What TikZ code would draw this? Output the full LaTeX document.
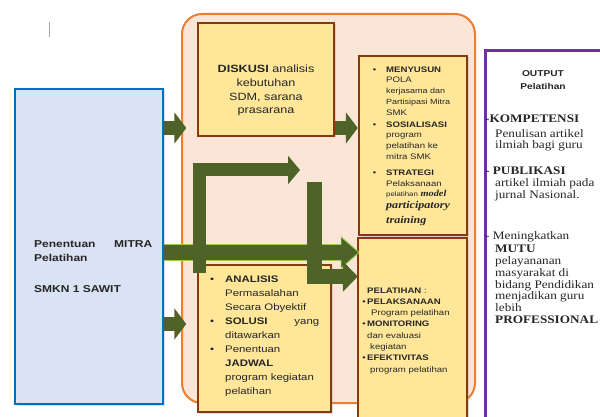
\documentclass[tikz,border=0pt]{standalone}
\usepackage{fontspec}
\setmainfont{Liberation Sans}[FakeStretch=1.2]
\newfontfamily\tnr{Liberation Serif}[FakeStretch=1.15]
\usetikzlibrary{arrows.meta,shadows}
\definecolor{srcfill}{HTML}{DAE3F3}
\definecolor{srcline}{HTML}{0070C0}
\definecolor{pnlfill}{HTML}{FBE5D6}
\definecolor{pnlline}{HTML}{ED7D31}
\definecolor{ylw}{HTML}{FFE699}
\definecolor{brn}{HTML}{843C0C}
\definecolor{olv}{HTML}{4F6228}
\definecolor{lime}{HTML}{92D050}
\definecolor{purp}{HTML}{7030A0}
\newcommand\bul[1][10pt]{\leavevmode\llap{\textbullet\hspace{#1}}}

\begin{document}
\begin{tikzpicture}[x=1pt,y=-1pt,
  box/.style={draw=brn,fill=ylw,line width=2.5pt,inner sep=0pt,
    drop shadow={shadow xshift=1.5pt,shadow yshift=-1.5pt,opacity=.25}},
  txt/.style={inner sep=0pt,anchor=north west,align=left,text=black!85},
  blk/.style={draw=olv,line width=14pt,-{Triangle[length=12pt,width=31pt]}}]
\useasboundingbox (0,0) rectangle (600,417);
\clip (0,0) rectangle (600,417);

\draw[gray!70,line width=0.8pt] (49,22) -- (49,37);

% frames
\node[draw=pnlline,fill=pnlfill,line width=2pt,rounded corners=20pt,
      minimum width=293,minimum height=389] (panel) at (328.5,208.5) {};
\node[draw=srcline,fill=srcfill,line width=2.5pt,inner sep=0pt,
      minimum width=148,minimum height=315,
      drop shadow={shadow xshift=1.5pt,shadow yshift=-1.5pt,opacity=.25}] (src) at (89,246.5) {};
\node[box,minimum width=136,minimum height=113] (diskusi) at (266,79.5) {};
\node[box,minimum width=108,minimum height=179] (menyusun) at (413,145.5) {};
\node[box,minimum width=109,minimum height=192] (pelatihan) at (412.5,334) {};
\node[box,minimum width=133,minimum height=147] (analisis) at (264.5,338.5) {};
\node[draw=purp,fill=white,line width=3pt,anchor=north west,
      minimum width=150,minimum height=400] (outbox) at (484,49) {};

% arrows
\foreach \y in {128,324}{ % into the panel
  \draw[blk] (src.east |- 0,\y) -- ++(22,0);
}
\draw[blk] (diskusi.east |- 0,128) -- (menyusun.west |- 0,128);
\draw[draw=lime,line width=17pt,-{Triangle[length=19pt,width=32pt]}]
  (src.east |- 0,252.5) -- ([xshift=3pt]pelatihan.west |- 0,252.5);
\draw[blk,line width=14.5pt,-{Triangle[length=17pt,width=28pt]}]
  (src.east |- 0,252.5) -- ([xshift=1.5pt]pelatihan.west |- 0,252.5);
\coordinate (up0) at (199,273);
\coordinate (up1) at (300,170);
\draw[blk,line width=13pt,line join=miter,-{Triangle[length=12pt,width=28pt]}]
  (up0) |- (up1);
\coordinate (dn0) at (314,182);
\draw[blk,line width=15pt,line join=miter,-{Triangle[length=15pt,width=30pt]}]
  (dn0) |- ([xshift=1pt]pelatihan.west |- 0,276.5);

% texts
\node[txt,font=\fontsize{10}{14}\selectfont\bfseries,text width=118] (srctxt) at (34,240.8)
  {Penentuan\hfill MITRA\\Pelatihan\\[17pt]SMKN 1 SAWIT};
\node[inner sep=0pt,anchor=north,align=center,text=black!85,
      font=\fontsize{10.5}{13.7}\selectfont] (diskusitxt) at (266,65)
  {\textbf{DISKUSI} analisis\\kebutuhan\\SDM, sarana\\prasarana};
\node[txt,font=\fontsize{8}{10.8}\selectfont] (menytxt) at (386,66.3)
  {\bul\textbf{MENYUSUN}\\POLA\\
   {\fontsize{7.5}{10}\selectfont kerjasama dan}\\
   {\fontsize{7.5}{10}\selectfont Partisipasi Mitra}\\
   SMK\\[1pt]
   \bul\textbf{SOSIALISASI}\\program\\pelatihan ke\\mitra SMK\\[5pt]
   \bul\textbf{STRATEGI}\\Pelaksanaan\\
   {\fontsize{6.5}{8}\selectfont pelatihan} {\tnr\bfseries\itshape\fontsize{9}{10}\selectfont model}\\[1pt]
   {\tnr\bfseries\itshape\fontsize{10.5}{12}\selectfont participatory}\\[4pt]
   {\tnr\bfseries\itshape\fontsize{10.5}{12}\selectfont training}};
\node[txt,font=\fontsize{9.5}{14}\selectfont,text width=94] (anatxt) at (225,275.2)
  {\bul[11pt]\textbf{ANALISIS}\\Permasalahan\\Secara Obyektif\\
   \bul[11pt]\textbf{SOLUSI}\hfill yang\\ditawarkan\\
   \bul[11pt]Penentuan\\\textbf{JADWAL}\\program kegiatan\\pelatihan};
\node[txt,font=\fontsize{8}{11.3}\selectfont] (pltxt) at (367,287.3)
  {\textbf{PELATIHAN} :\\
   \bul[1.5pt]\textbf{PELAKSANAAN}\\\hspace*{4pt}Program pelatihan\\
   \bul[1.5pt]\textbf{MONITORING}\\dan evaluasi\\\hspace*{3pt}kegiatan\\
   \bul[1.5pt]\textbf{EFEKTIVITAS}\\\hspace*{3pt}program pelatihan};
\node[inner sep=0pt,anchor=north,align=center,text=black!85,
      font=\fontsize{8.5}{13}\selectfont\bfseries] (outhead) at (543,70.8)
  {OUTPUT\\Pelatihan};
\node[txt,font=\tnr\fontsize{11.5}{11.7}\selectfont] (outtxt) at (485,114.4)
  {\textbf{-KOMPETENSI}\\[3.2pt]
   \hspace*{10pt}Penulisan artikel\\\hspace*{10pt}ilmiah bagi guru\\[14.2pt]
   \textbf{- PUBLIKASI}\\\hspace*{10pt}artikel ilmiah pada\\\hspace*{10pt}jurnal Nasional.\\[29.2pt]
   - Meningkatkan\\[2.2pt]
   \hspace*{10pt}\textbf{MUTU}\\\hspace*{10pt}pelayananan\\\hspace*{10pt}masyarakat di\\
   \hspace*{10pt}bidang Pendidikan\\\hspace*{10pt}menjadikan guru\\\hspace*{10pt}lebih\\
   \hspace*{10pt}\textbf{PROFESSIONAL}};
\end{tikzpicture}
\end{document}
